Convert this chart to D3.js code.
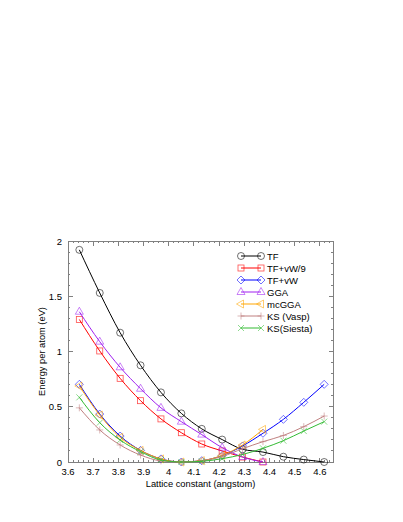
<!DOCTYPE html>
<html>
<head>
<meta charset="utf-8">
<script src="https://cdn.jsdelivr.net/npm/d3@7"></script>
<style>
  body { margin: 0; background: #fff; }
  text { font-family: "Liberation Sans", Arial, sans-serif; }
</style>
</head>
<body>
<div id="chart"></div>
<script>
// lattice constants (angstom)
var latticeX = [3.645, 3.726, 3.807, 3.888, 3.969, 4.05, 4.131, 4.212, 4.293, 4.374, 4.455, 4.536, 4.617];

// energies per atom (eV)
var tf       = [1.92, 1.53, 1.17, 0.875, 0.63, 0.44, 0.30, 0.203, 0.115, 0.09, 0.048, 0.022, 0.0];
var tfvw9    = [1.29, 1.005, 0.757, 0.555, 0.39, 0.265, 0.163, 0.1, 0.045, 0.0];
var tfvw     = [0.703, 0.434, 0.235, 0.105, 0.028, 0.0, 0.012, 0.058, 0.145, 0.26, 0.386, 0.54, 0.703];
var gga      = [1.36, 1.089, 0.857, 0.663, 0.49, 0.365, 0.248, 0.13, 0.045, 0.0];
var mcgga    = [0.688, 0.425, 0.223, 0.105, 0.028, 0.0, 0.012, 0.06, 0.154, 0.295];
var ksVasp   = [0.49, 0.29, 0.154, 0.063, 0.01, 0.0, 0.01, 0.05, 0.12, 0.184, 0.24, 0.32, 0.416];
var ksSiesta = [0.585, 0.356, 0.199, 0.093, 0.018, 0.0, 0.006, 0.03, 0.068, 0.124, 0.193, 0.28, 0.365];

var seriesNames = ["TF", "TF+vW/9", "TF+vW", "GGA", "mcGGA", "KS (Vasp)", "KS(Siesta)"];
var seriesValues = [tf, tfvw9, tfvw, gga, mcgga, ksVasp, ksSiesta];
var seriesColors = ["#000000", "#ff0000", "#0000ff", "#a020f0", "#ffa500", "#c08080", "#33bb33"];
var seriesMarkers = ["circle", "square", "diamond", "triUp", "triLeft", "plus", "cross"];

var xTicks = [3.6, 3.7, 3.8, 3.9, 4, 4.1, 4.2, 4.3, 4.4, 4.5, 4.6];
var yTicks = [0, 0.5, 1, 1.5, 2];

// set the dimensions and margins of the graph
var W = 403, H = 522;
var margin = {top: 241, right: 70, bottom: 60, left: 68},
    width = W - margin.left - margin.right,
    height = H - margin.top - margin.bottom;

var svg = d3.select("#chart")
  .append("svg")
    .attr("width", W)
    .attr("height", H)
  .append("g")
    .attr("transform", "translate(" + margin.left + "," + margin.top + ")");

var x = d3.scaleLinear().domain([3.6, 4.652]).range([0, width]);
var y = d3.scaleLinear().domain([0, 2]).range([height, 0]);

var axisColor = "#808080";

// minor ticks (inward, all four sides)
var xMinor = d3.range(3.62, 4.65, 0.02).filter(function(v) { return Math.abs(v * 10 - Math.round(v * 10)) > 0.01; });
var yMinor = d3.range(0.1, 2, 0.1).filter(function(v) { return Math.abs(v * 2 - Math.round(v * 2)) > 0.01; });

function tickLines(vals, scale, horizontal, len) {
  vals.forEach(function(v) {
    var p = scale(v);
    if (horizontal) {
      svg.append("line").attr("x1", p).attr("x2", p).attr("y1", height).attr("y2", height - len);
      svg.append("line").attr("x1", p).attr("x2", p).attr("y1", 0).attr("y2", len);
    } else {
      svg.append("line").attr("y1", p).attr("y2", p).attr("x1", 0).attr("x2", len);
      svg.append("line").attr("y1", p).attr("y2", p).attr("x1", width).attr("x2", width - len);
    }
  });
}
tickLines(xTicks, x, true, 4.5);
tickLines(xMinor, x, true, 2.2);
tickLines(yTicks, y, false, 4.5);
tickLines(yMinor, y, false, 2.2);
svg.selectAll("line").attr("stroke", axisColor).attr("stroke-width", 1).attr("shape-rendering", "crispEdges");

// frame
svg.append("rect")
  .attr("x", 0).attr("y", 0).attr("width", width).attr("height", height)
  .attr("fill", "none").attr("stroke", axisColor).attr("stroke-width", 1)
  .attr("shape-rendering", "crispEdges");

// tick labels
svg.selectAll(".xlab").data(xTicks).enter().append("text")
  .attr("x", function(d) { return x(d); })
  .attr("y", height + 13)
  .attr("text-anchor", "middle")
  .attr("font-size", "9.5px")
  .text(function(d) { return d3.format("")(d); });

svg.selectAll(".ylab").data(yTicks).enter().append("text")
  .attr("x", -6)
  .attr("y", function(d) { return y(d) + 3.5; })
  .attr("text-anchor", "end")
  .attr("font-size", "9.5px")
  .text(function(d) { return d3.format("")(d); });

// axis titles
svg.append("text")
  .attr("x", width / 2).attr("y", height + 25)
  .attr("text-anchor", "middle").attr("font-size", "9.3px")
  .text("Lattice constant (angstom)");

svg.append("text")
  .attr("transform", "translate(-23," + (height / 2) + ") rotate(-90)")
  .attr("text-anchor", "middle").attr("font-size", "9.3px")
  .text("Energy per atom (eV)");

// marker drawing
function drawMarker(g, kind, cx, cy, color) {
  var s = 3.5;
  var m;
  if (kind === "circle") {
    m = g.append("circle").attr("cx", cx).attr("cy", cy).attr("r", s);
  } else if (kind === "square") {
    m = g.append("rect").attr("x", cx - 3).attr("y", cy - 3).attr("width", 6).attr("height", 6);
  } else if (kind === "diamond") {
    m = g.append("path").attr("d", "M" + cx + "," + (cy - 4) + "L" + (cx + 4) + "," + cy + "L" + cx + "," + (cy + 4) + "L" + (cx - 4) + "," + cy + "Z");
  } else if (kind === "triUp") {
    m = g.append("path").attr("d", "M" + cx + "," + (cy - 4.5) + "L" + (cx + 4) + "," + (cy + 2.5) + "L" + (cx - 4) + "," + (cy + 2.5) + "Z");
  } else if (kind === "triLeft") {
    m = g.append("path").attr("d", "M" + (cx - 4.5) + "," + cy + "L" + (cx + 2.5) + "," + (cy - 4) + "L" + (cx + 2.5) + "," + (cy + 4) + "Z");
  } else if (kind === "plus") {
    m = g.append("path").attr("d", "M" + (cx - 3.5) + "," + cy + "H" + (cx + 3.5) + "M" + cx + "," + (cy - 3.5) + "V" + (cy + 3.5));
  } else {
    m = g.append("path").attr("d", "M" + (cx - 3) + "," + (cy - 3) + "L" + (cx + 3) + "," + (cy + 3) + "M" + (cx + 3) + "," + (cy - 3) + "L" + (cx - 3) + "," + (cy + 3));
  }
  m.attr("fill", "none").attr("stroke", color).attr("stroke-width", 0.8).attr("stroke-opacity", 0.7);
}

var line = d3.line()
  .x(function(d) { return x(d[0]); })
  .y(function(d) { return y(d[1]); })
  .curve(d3.curveMonotoneX);

var plot = svg.append("g");

seriesValues.forEach(function(vals, i) {
  var pts = vals.map(function(v, j) { return [latticeX[j], v]; });
  plot.append("path")
    .datum(pts)
    .attr("d", line)
    .attr("fill", "none")
    .attr("stroke", seriesColors[i])
    .attr("stroke-width", 1);
  var mg = plot.append("g");
  pts.forEach(function(p) {
    drawMarker(mg, seriesMarkers[i], x(p[0]), y(p[1]), seriesColors[i]);
  });
});

// legend
var legend = svg.append("g").attr("transform", "translate(173,15)");
seriesNames.forEach(function(name, i) {
  var ly = i * 12;
  legend.append("line")
    .attr("x1", 0).attr("x2", 20).attr("y1", ly).attr("y2", ly)
    .attr("stroke", seriesColors[i]).attr("stroke-width", 1);
  drawMarker(legend, seriesMarkers[i], 0, ly, seriesColors[i]);
  drawMarker(legend, seriesMarkers[i], 20, ly, seriesColors[i]);
  legend.append("text")
    .attr("x", 26).attr("y", ly + 3.5)
    .attr("font-size", "9.5px")
    .text(name);
});
</script>
</body>
</html>
